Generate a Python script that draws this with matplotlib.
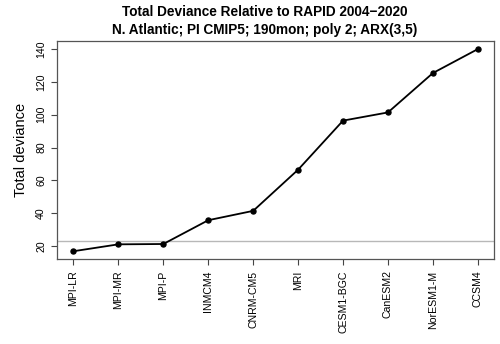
import matplotlib
matplotlib.use("Agg")
import matplotlib.pyplot as plt

models = ["MPI-LR", "MPI-MR", "MPI-P", "INMCM4", "CNRM-CM5", "MRI",
          "CESM1-BGC", "CanESM2", "NorESM1-M", "CCSM4"]
deviance = [16.8, 21.0, 21.2, 35.7, 41.4, 66.5, 96.4, 101.4, 125.4, 140.0]
ref_level = 23.2
yticks = [20, 40, 60, 80, 100, 120, 140]

plt.rcParams['font.family'] = ['Liberation Sans', 'DejaVu Sans']

fig = plt.figure(figsize=(5.0, 3.44), dpi=100)
ax = fig.add_axes([0.1146, 0.2462, 0.8734, 0.6346])

x = list(range(1, len(models) + 1))
ax.axhline(ref_level, color="#b8b8b8", lw=1.0, zorder=1)
ax.plot(x, deviance, color="black", lw=1.3, marker="o", ms=3.6, zorder=3)

n = len(models)
ax.set_xlim(1 - 0.04 * (n - 1), n + 0.04 * (n - 1))
rng = max(deviance) - min(deviance)
ax.set_ylim(min(deviance) - 0.04 * rng, max(deviance) + 0.04 * rng)

ax.set_xticks(x)
ax.set_xticklabels(models, rotation=90, fontsize=7.6)
ax.set_yticks(yticks)
ax.set_yticklabels([str(v) for v in yticks], rotation=90, fontsize=7.6, va="center")
ax.tick_params(axis="both", length=4, width=0.8, color="#444444", pad=4)

for s in ax.spines.values():
    s.set_color("#555555")
    s.set_linewidth(0.9)

ax.set_ylabel("Total deviance", fontsize=10.5, labelpad=6)
fig.text(0.53, 0.965, "Total Deviance Relative to RAPID 2004\u22122020",
         ha="center", va="center", fontsize=9.8, fontweight="bold")
fig.text(0.53, 0.912, "N. Atlantic; PI CMIP5; 190mon; poly 2; ARX(3,5)",
         ha="center", va="center", fontsize=9.8, fontweight="bold")

fig.savefig("out.png", dpi=100)
